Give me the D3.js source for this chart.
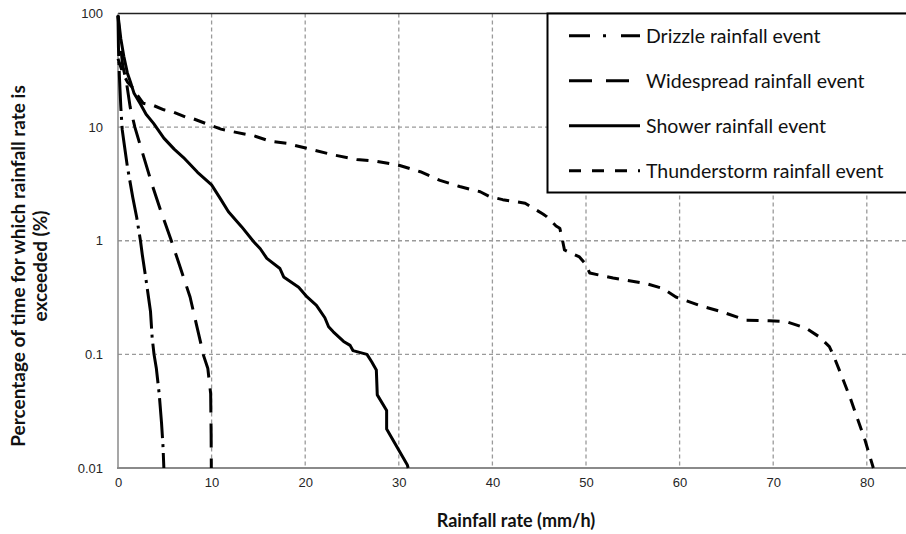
<!DOCTYPE html>
<html>
<head>
<meta charset="utf-8">
<script src="https://cdn.jsdelivr.net/npm/d3@7"></script>
<style>
  body { margin: 0; background: #fff; }
  svg { display: block; font-family: Lato, "Open Sans", sans-serif; }
</style>
</head>
<body>
<svg id="chart" width="906" height="534"></svg>
<script>
// values: [rainfall rate mm/h, % of time exceeded]
const drizzle = [
  [0, 95], [0.05, 50], [0.15, 28], [0.3, 15], [0.45, 9.5], [0.62, 7.5], [1.0, 4.5],
  [1.58, 2.4], [2.0, 1.6], [2.4, 1.0], [2.6, 0.75], [3.0, 0.45], [3.47, 0.24],
  [3.65, 0.14], [3.85, 0.1], [4.1, 0.075], [4.4, 0.045], [4.65, 0.025], [4.8, 0.016], [4.9, 0.01]
];
const widespread = [
  [0, 95], [0.2, 60], [0.5, 35], [0.9, 25], [1.3, 15], [1.8, 10], [2.6, 6], [3.6, 3.2],
  [4.6, 1.8], [5.7, 1.0], [6.6, 0.6], [7.7, 0.32], [8.4, 0.18], [8.9, 0.12], [9.1, 0.1],
  [9.6, 0.075], [9.9, 0.045], [9.95, 0.02], [9.97, 0.01]
];
const shower = [
  [0, 97], [0.3, 60], [0.62, 42], [1.0, 30], [1.33, 25], [1.7, 20], [2.4, 16], [3.0, 13],
  [3.8, 10.8], [4.9, 8.0], [6.0, 6.4], [7.0, 5.4], [8.5, 4.0], [10.0, 3.1], [11.0, 2.3],
  [11.8, 1.8], [13.2, 1.33], [14.5, 0.98], [15.2, 0.85], [15.9, 0.7], [17.3, 0.57],
  [17.7, 0.48], [19.3, 0.39], [20.2, 0.32], [21.2, 0.27], [22.1, 0.21], [22.5, 0.175],
  [23.0, 0.158], [24.1, 0.13], [24.8, 0.12], [25.1, 0.108], [26.6, 0.1], [27.1, 0.086],
  [27.6, 0.073], [27.7, 0.044], [28.7, 0.032], [28.7, 0.022], [30.9, 0.0107], [31.0, 0.01]
];
const thunderstorm = [
  [0, 40], [0.5, 30], [1.0, 25], [1.5, 22.5], [2.0, 19.5], [2.7, 16.2], [3.8, 15.5],
  [4.9, 14.2], [5.9, 13.6], [7.2, 12.3], [8.1, 11.8], [10.0, 10.3], [11.0, 9.6],
  [12.3, 9.1], [14.5, 8.4], [16.3, 7.5], [18.0, 7.2], [20.2, 6.5], [23.0, 5.7],
  [25.5, 5.2], [27.6, 5.0], [30.1, 4.6], [32.3, 4.05], [34.4, 3.4], [36.5, 3.0],
  [38.7, 2.7], [39.7, 2.45], [41.1, 2.3], [43.5, 2.14], [45.4, 1.72], [45.8, 1.63],
  [46.8, 1.35], [47.2, 1.29], [47.5, 1.0], [47.7, 0.83], [49.3, 0.72], [49.9, 0.63],
  [50.4, 0.52], [52.9, 0.47], [56.4, 0.42], [58.2, 0.38], [59.6, 0.32], [62.1, 0.27],
  [64.3, 0.24], [67.1, 0.2], [69.6, 0.198], [71.4, 0.194], [73.5, 0.17], [74.9, 0.143],
  [76.0, 0.117], [76.5, 0.095], [77.3, 0.065], [78.2, 0.042], [79.8, 0.0177], [80.7, 0.01]
];

const seriesNames = ["Drizzle rainfall event", "Widespread rainfall event",
                     "Shower rainfall event", "Thunderstorm rainfall event"];
const xTicks = [0, 10, 20, 30, 40, 50, 60, 70, 80];
const yTicks = [0.01, 0.1, 1, 10, 100];
const yTickLabels = ["0.01", "0.1", "1", "10", "100"];

const series = [
  {name: seriesNames[0], values: drizzle, dash: "40,6,3,6"},
  {name: seriesNames[1], values: widespread, dash: "24,11"},
  {name: seriesNames[2], values: shower, dash: null},
  {name: seriesNames[3], values: thunderstorm, dash: "12,9"}
];

const svg = d3.select("#chart");
const margin = {left: 118, top: 13.5, bottom: 66};
const height = 534;

// x runs on past the right edge of the picture (the original is cropped there)
const x = d3.scaleLinear()
  .domain([0, 90])
  .range([margin.left, margin.left + 9 * 93.6]);

const y = d3.scaleLog()
  .domain([0.01, 100])
  .range([height - margin.bottom, margin.top]);

const g = svg.append("g").attr("id", "plot");

// grid
g.append("g").selectAll("line")
  .data(xTicks.slice(1))
  .join("line")
  .attr("x1", d => x(d)).attr("x2", d => x(d))
  .attr("y1", y(100)).attr("y2", y(0.01))
  .attr("stroke", "#9a9a9a").attr("stroke-width", 1.3)
  .attr("stroke-dasharray", "4,3");

g.append("g").selectAll("line")
  .data(yTicks.slice(1, -1))
  .join("line")
  .attr("x1", x(0)).attr("x2", 906)
  .attr("y1", d => y(d)).attr("y2", d => y(d))
  .attr("stroke", "#9a9a9a").attr("stroke-width", 1.3)
  .attr("stroke-dasharray", "4,3");

// top border of plot area
g.append("line")
  .attr("x1", x(0)).attr("x2", 906)
  .attr("y1", y(100)).attr("y2", y(100))
  .attr("stroke", "#222").attr("stroke-width", 1.5);

// axes
const xAxis = g.append("g")
  .attr("transform", `translate(0, ${y(0.01)})`)
  .call(d3.axisBottom(x).tickValues(xTicks).tickSize(0).tickPadding(10).tickFormat(d3.format("d")));
xAxis.select(".domain").remove();
xAxis.selectAll("text").attr("font-size", 13).attr("fill", "#262626");

const yAxis = g.append("g")
  .attr("transform", `translate(${x(0)}, 0)`)
  .call(d3.axisLeft(y).tickValues(yTicks).tickSize(0).tickPadding(15)
    .tickFormat((d, i) => yTickLabels[i]));
yAxis.select(".domain").remove();
yAxis.selectAll("text").attr("font-size", 13).attr("fill", "#262626");

g.append("line")
  .attr("x1", x(0)).attr("x2", x(0))
  .attr("y1", y(100)).attr("y2", y(0.01))
  .attr("stroke", "#8a8a8a").attr("stroke-width", 1.5);
g.append("line")
  .attr("x1", x(0) - 1).attr("x2", 906)
  .attr("y1", y(0.01)).attr("y2", y(0.01))
  .attr("stroke", "#8a8a8a").attr("stroke-width", 2);

// curves
const line = d3.line()
  .x(d => x(d[0]))
  .y(d => y(d[1]));

g.append("g").selectAll("path")
  .data(series)
  .join("path")
  .attr("d", d => line(d.values))
  .attr("fill", "none")
  .attr("stroke", "#000")
  .attr("stroke-width", 3)
  .attr("stroke-linejoin", "round")
  .attr("stroke-dasharray", d => d.dash);

// legend
const legend = svg.append("g").attr("id", "legend");
legend.append("rect")
  .attr("x", 547.5).attr("y", 13.5)
  .attr("width", 400).attr("height", 179)
  .attr("fill", "#fff").attr("stroke", "#000").attr("stroke-width", 2);

const rows = legend.selectAll("g.row")
  .data(series)
  .join("g")
  .attr("class", "row")
  .attr("transform", (d, i) => `translate(0, ${35.7 + i * 45})`);

rows.append("line")
  .attr("x1", 569).attr("x2", 640)
  .attr("stroke", "#000").attr("stroke-width", 3)
  .attr("stroke-dasharray", (d, i) => [ "21,13,3,15,30", "23,14", null, "12,11"][i]);

rows.append("text")
  .attr("x", 646)
  .attr("dy", "0.35em")
  .attr("font-size", 19.5)
  .attr("fill", "#111")
  .text(d => d.name);

// axis titles
svg.append("text")
  .attr("x", 516).attr("y", 527)
  .attr("text-anchor", "middle")
  .attr("font-size", 18).attr("font-weight", "bold").attr("fill", "#111")
  .text("Rainfall rate (mm/h)");

const yTitle = svg.append("text")
  .attr("transform", "translate(0, 266) rotate(-90)")
  .attr("text-anchor", "middle")
  .attr("font-size", 19).attr("font-weight", "bold").attr("fill", "#111");
yTitle.append("tspan").attr("x", 0).attr("y", 25)
  .text("Percentage of time for which rainfall rate is");
yTitle.append("tspan").attr("x", 0).attr("y", 47)
  .text("exceeded (%)");
</script>
</body>
</html>
